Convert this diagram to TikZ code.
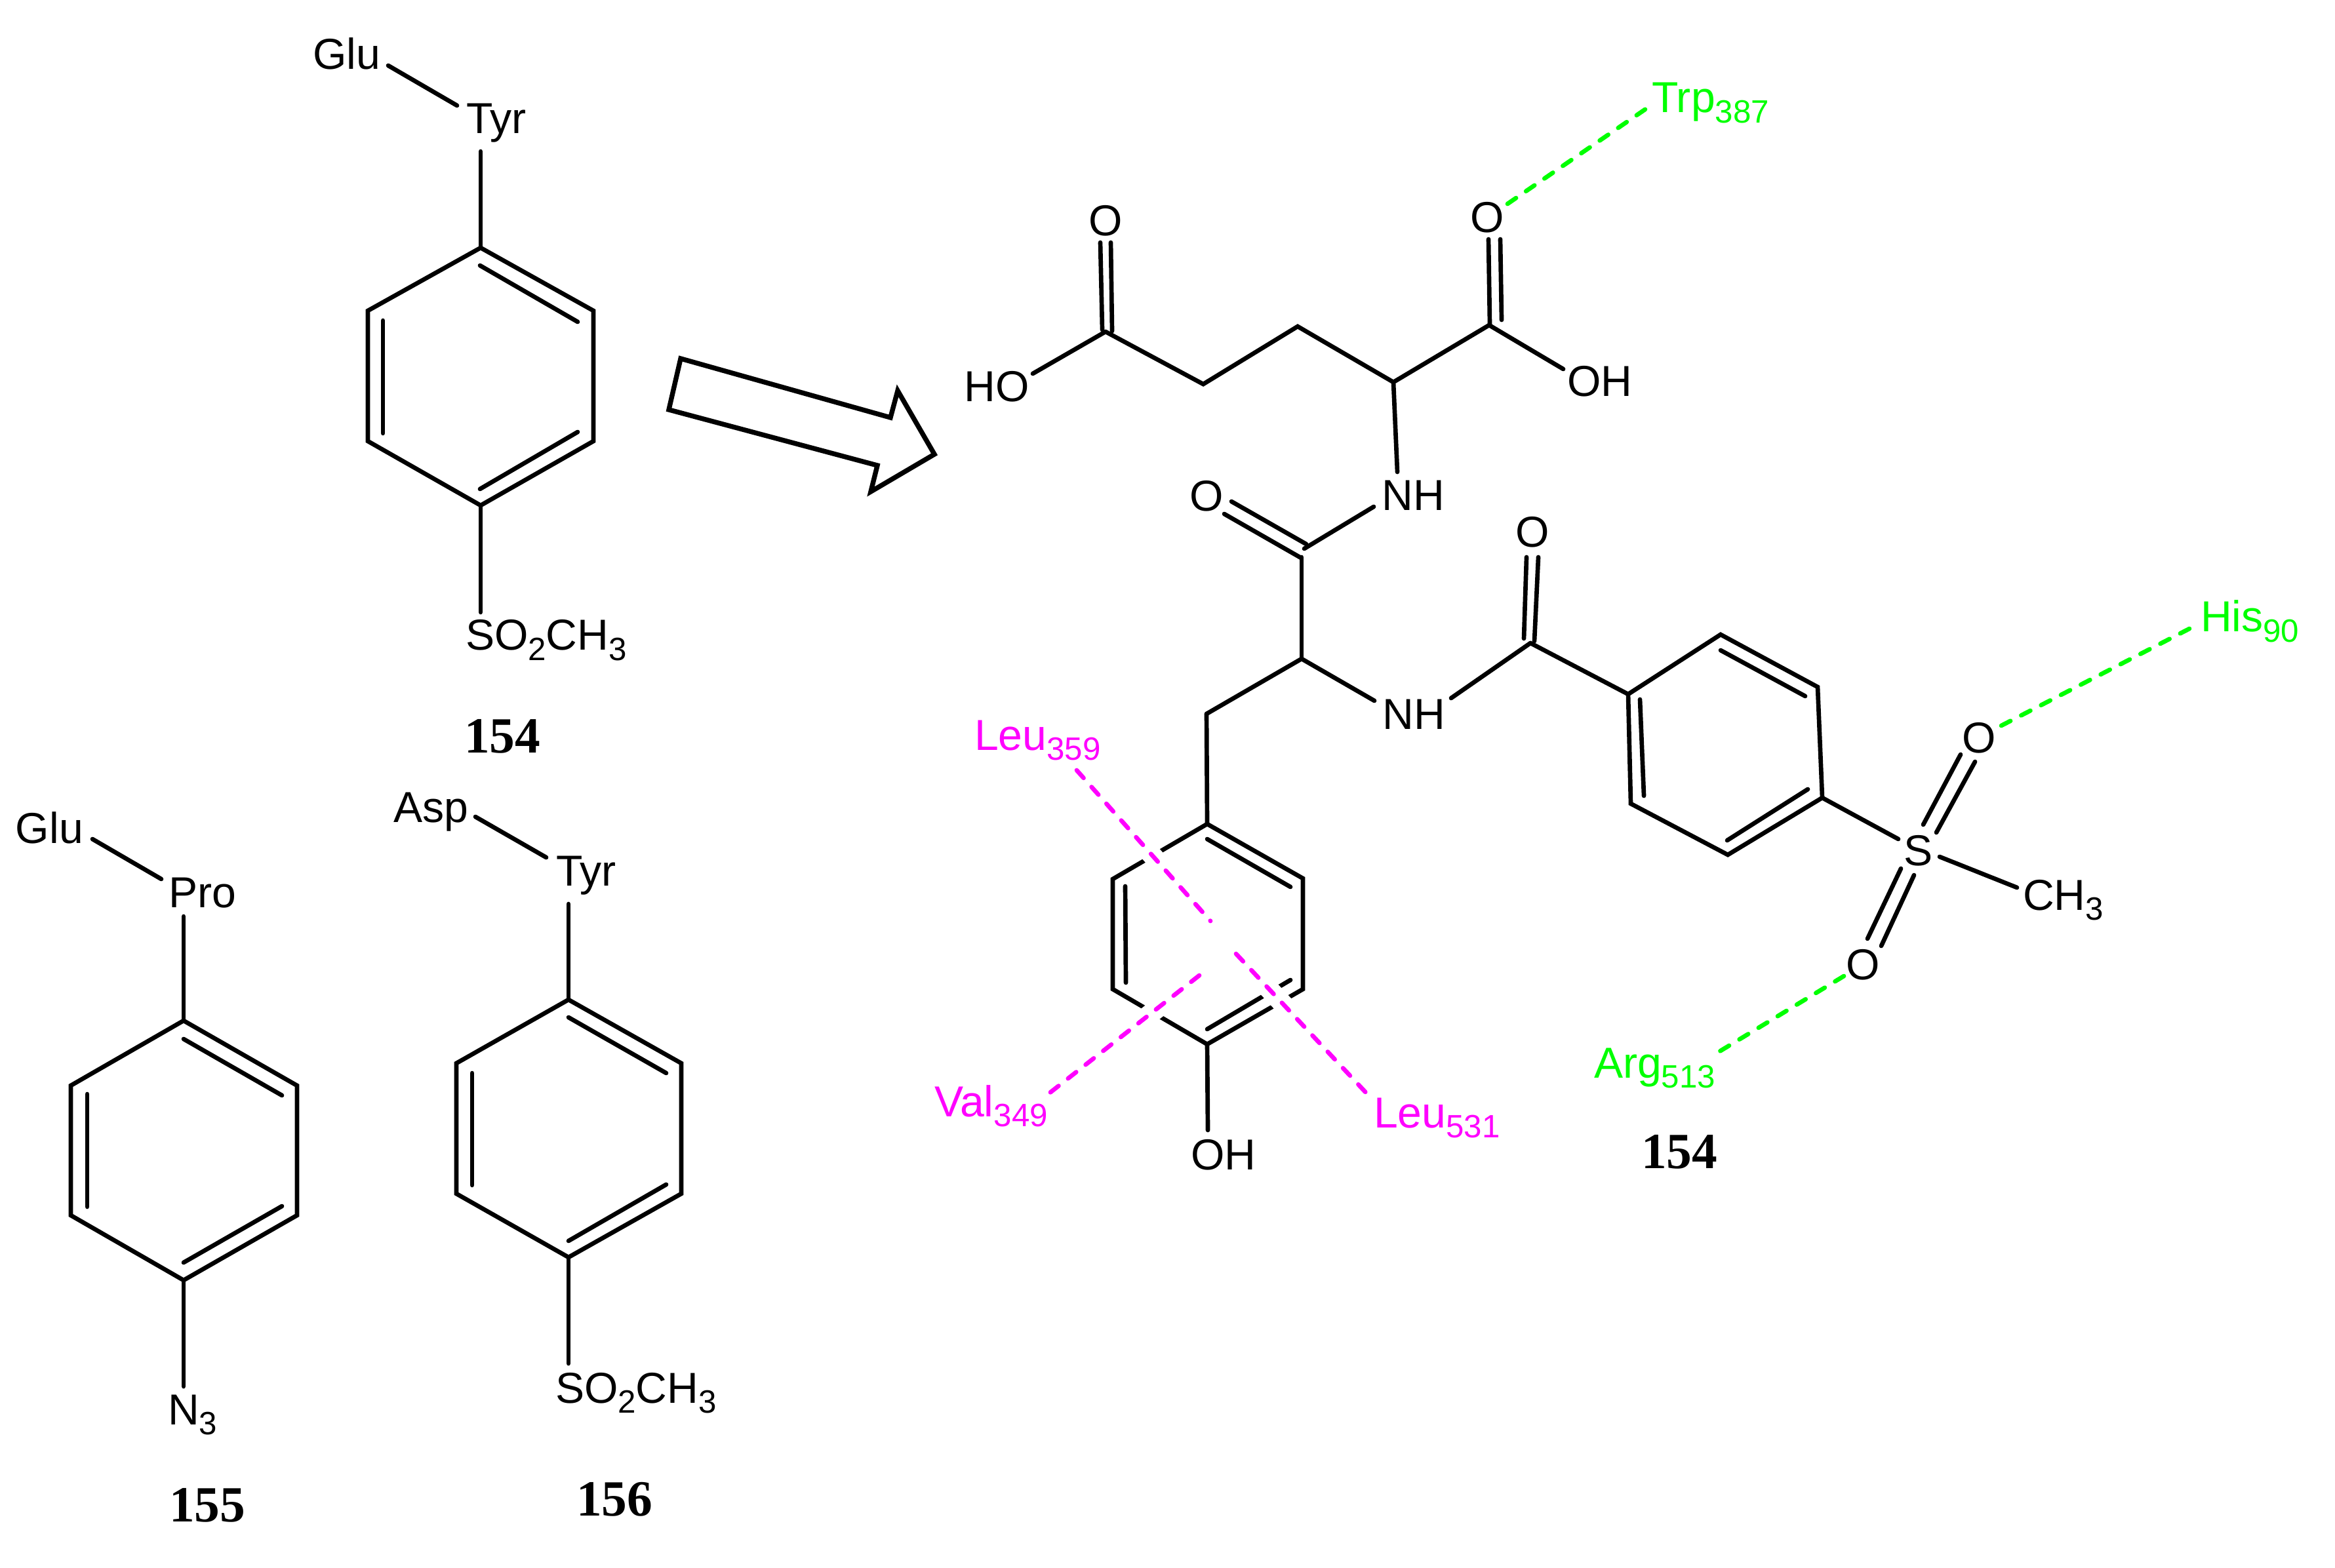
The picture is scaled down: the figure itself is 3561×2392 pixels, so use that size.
\documentclass[tikz,border=0pt]{standalone}
\usepackage{fontspec}
\setmainfont{Liberation Sans}
\newfontfamily\numfont[BoldFont={Liberation Serif Bold}]{Liberation Serif}
\newcommand{\sbs}[1]{\raisebox{-4.3pt}{\fontsize{14}{14}\selectfont #1}}
\definecolor{hbgreen}{RGB}{0,255,0}
\definecolor{pimag}{RGB}{255,0,255}
\tikzset{
  bond/.style={draw=black,line width=1.9pt,line cap=round,line join=miter},
  hbond/.style={draw=hbgreen,line width=1.9pt,line cap=round,dash pattern=on 4.5pt off 5.2pt},
  pibond/.style={draw=pimag,line width=1.9pt,line cap=round,dash pattern=on 4.5pt off 5.2pt,
    preaction={draw=white,solid,line cap=butt,line width=8.5pt}},
  atom/.style={inner sep=0pt,outer sep=0pt,anchor=base,text=black,font=\fontsize{18.8}{20}\selectfont},
  atomw/.style={atom,anchor=base west},
  residue/.style={atomw,font=\fontsize{18.8}{20}\selectfont},
  cmpd/.style={inner sep=0pt,outer sep=0pt,anchor=base west,text=black,font=\numfont\bfseries\fontsize{22}{23}\selectfont},
  arrowbox/.style={draw=black,line width=2.1pt,line join=miter,fill=white}
}
\begin{document}
\begin{tikzpicture}[x=0.01cm,y=-0.01cm]
\useasboundingbox (0,0) rectangle (3561,2392);
% ---- atoms and free bond ends ----
\foreach \n/\x/\y in {
 % compound 154, left
 at1/733/378, at2/905/474, at3/905/673, at4/733/771, at5/561/673, at6/561/474,
 ati1a/732/405, ati1b/881/491, ati2a/584/489, ati2b/584/661, ati3a/732/746, ati3b/881/659,
 atTyr/733/231, atGluA/592/100, atTyrA/697/161, atS/733/934,
 % compound 155
 bt1/280/1557, bt2/453/1656, bt3/453/1854, bt4/280/1953, bt5/108/1854, bt6/108/1656,
 bti1a/280/1585, bti1b/430/1671, bti2a/133/1669, bti2b/133/1841, bti3a/280/1926, bti3b/430/1840,
 btPro/280/1398, btGluA/141/1280, btProA/246/1341, btN/280/2115,
 % compound 156
 ct1/867/1525, ct2/1039/1622, ct3/1039/1821, ct4/867/1918, ct5/696/1821, ct6/696/1622,
 cti1a/867/1552, cti1b/1016/1637, cti2a/720/1637, cti2b/720/1808, cti3a/867/1893, cti3b/1016/1807,
 ctTyr/867/1379, ctAspA/725/1246, ctTyrA/833/1308, ctS/867/2080,
 % open arrow
 ar1/1038/547, ar2/1358/637, ar3/1369/596, ar4/1425/693, ar5/1328/750, ar6/1338/710, ar7/1020/625,
 % large structure: glutamate part
 gC1/1686/506, gC2/1835/586, gC3/1979/498, gC4/2125/583, gC5/2271/496,
 gO1a/1678/370, gO1b/1681/503, gO1c/1694/370, gO1d/1696/505,
 gO2a/2270/365, gO2b/2272/495, gO2c/2288/365, gO2d/2290/488,
 gHO/1575/570, gOH/2384/563, gNH/2131/720,
 % amide 1
 mC/1989/837, mNHb/2095/773, mOa/1867/784, mOb/1984/851, mOc/1878/765, mOd/1992/830,
 mCd/1985/850, mCH/1985/1005, mCH2/1840/1089, mNHc/2096/1069,
 % tyrosine ring
 y1/1841/1257, y2/1987/1340, y3/1987/1509, y4/1841/1593, y5/1697/1509, y6/1697/1341,
 yi1a/1841/1280, yi1b/1968/1353, yi2a/1716/1352, yi2b/1717/1499, yi3a/1841/1570, yi3b/1968/1495,
 yOH/1842/1724,
 % benzoyl
 kNH/2213/1065, kC/2334/981, kOa/2328/850, kOb/2324/974, kOc/2346/850, kOd/2340/978,
 r1/2624/968, r2/2772/1048, r3/2779/1217, r4/2635/1304, r5/2487/1226, r6/2483/1059,
 ri1a/2624/992, ri1b/2753/1062, ri2a/2501/1067, ri2b/2507/1214, ri3a/2634/1282, ri3b/2757/1204,
 % sulfone
 sA/2895/1280, sM/2958/1307, sMe/3076/1354,
 sUa/2990/1151, sUb/2933/1258, sUc/3012/1162, sUd/2953/1270,
 sLa/2899/1325, sLb/2848/1432, sLc/2919/1335, sLd/2869/1443,
 % contact ends
 hTa/2299/311, hTb/2516/162, hHa/3052/1107, hHb/3343/957, hAa/2812/1489, hAb/2614/1609,
 pAa/1642/1175, pAb/1846/1405, pBa/1885/1455, pBb/2087/1671, pCa/1829/1488, pCb/1596/1671}
  {\coordinate (\n) at (\x,\y);}
% ---- rings ----
\foreach \r in {at,bt,ct}{
  \draw[bond] (\r1)--(\r2)--(\r3)--(\r4)--(\r5)--(\r6)--cycle;
  \draw[bond] (\r i1a)--(\r i1b);
  \draw[bond] (\r i2a)--(\r i2b);
  \draw[bond] (\r i3a)--(\r i3b);
}
\draw[bond] (y1)--(y2)--(y3)--(y4)--(y5)--(y6)--cycle;
\draw[bond] (r1)--(r2)--(r3)--(r4)--(r5)--(r6)--cycle;
\foreach \r in {y,r}{
  \draw[bond] (\r i1a)--(\r i1b);
  \draw[bond] (\r i2a)--(\r i2b);
  \draw[bond] (\r i3a)--(\r i3b);
}
% ---- single and double bonds ----
\foreach \a/\b in {atTyr/at1, atGluA/atTyrA, at4/atS,
  btPro/bt1, btGluA/btProA, bt4/btN,
  ctTyr/ct1, ctAspA/ctTyrA, ct4/ctS,
  gO1a/gO1b, gO1c/gO1d, gO2a/gO2b, gO2c/gO2d, gHO/gC1, gC5/gOH, gC4/gNH,
  mC/mNHb, mOa/mOb, mOc/mOd, mCd/mCH, mCH/mCH2, mCH/mNHc, mCH2/y1, y4/yOH,
  kNH/kC, kC/r6, kOa/kOb, kOc/kOd, r3/sA, sM/sMe,
  sUa/sUb, sUc/sUd, sLa/sLb, sLc/sLd}
  {\draw[bond] (\a)--(\b);}
\draw[bond] (gC1)--(gC2)--(gC3)--(gC4)--(gC5);
% ---- open arrow ----
\draw[arrowbox] (ar1)--(ar2)--(ar3)--(ar4)--(ar5)--(ar6)--(ar7)--cycle;
% ---- contacts ----
\draw[pibond] (pAa)--(pAb);
\draw[pibond] (pBa)--(pBb);
\draw[pibond] (pCa)--(pCb);
\draw[hbond] (hTa)--(hTb);
\draw[hbond] (hHa)--(hHb);
\draw[hbond] (hAa)--(hAb);
% ---- labels, left structures ----
\node[atomw] (tGlu1) at (477,106) {Glu};
\node[atomw] (tTyr1) at (711,204) {Tyr};
\node[atomw] (tS1) at (710,992) {SO\sbs{2}CH\sbs{3}};
\node[cmpd] (n154a) at (708,1149) {154};
\node[atomw] (tGlu2) at (24,1286) {Glu};
\node[atomw] (tPro) at (257,1384) {Pro};
\node[atomw] (tN3) at (256,2173) {N\sbs{3}};
\node[cmpd] (n155) at (258,2321) {155};
\node[atomw] (tAsp) at (600,1254) {Asp};
\node[atomw] (tTyr2) at (848,1351) {Tyr};
\node[atomw] (tS2) at (847,2140) {SO\sbs{2}CH\sbs{3}};
\node[cmpd] (n156) at (879,2312) {156};
% ---- labels, large structure ----
\node[atom] (tO1) at (1686,360) {O};
\node[atom] (tO2) at (2268,355) {O};
\node[atom] (tHO) at (1520,613) {HO};
\node[atom] (tOH) at (2440,605) {OH};
\node[atom] (tNH1) at (2155,779) {NH};
\node[atom] (tO3) at (1840,780) {O};
\node[atom] (tO4) at (2337,835) {O};
\node[atom] (tNH2) at (2156,1113) {NH};
\node[atom] (tOH2) at (1866,1784) {OH};
\node[atom] (tSul) at (2926,1320) {S};
\node[atom] (tO5) at (3018,1148) {O};
\node[atom] (tO6) at (2841,1494) {O};
\node[atomw] (tCH3) at (3085,1388) {CH\sbs{3}};
\node[cmpd] (n154b) at (2503,1782) {154};
% ---- residues ----
\node[residue,text=hbgreen] (rTrp) at (2519,172) {Trp\sbs{387}};
\node[residue,text=hbgreen] (rHis) at (3356,964) {His\sbs{90}};
\node[residue,text=hbgreen] (rArg) at (2431,1644) {Arg\sbs{513}};
\node[residue,text=pimag] (rL359) at (1486,1144) {Leu\sbs{359}};
\node[residue,text=pimag] (rV349) at (1425,1703) {Val\sbs{349}};
\node[residue,text=pimag] (rL531) at (2095,1720) {Leu\sbs{531}};
\end{tikzpicture}
\end{document}
